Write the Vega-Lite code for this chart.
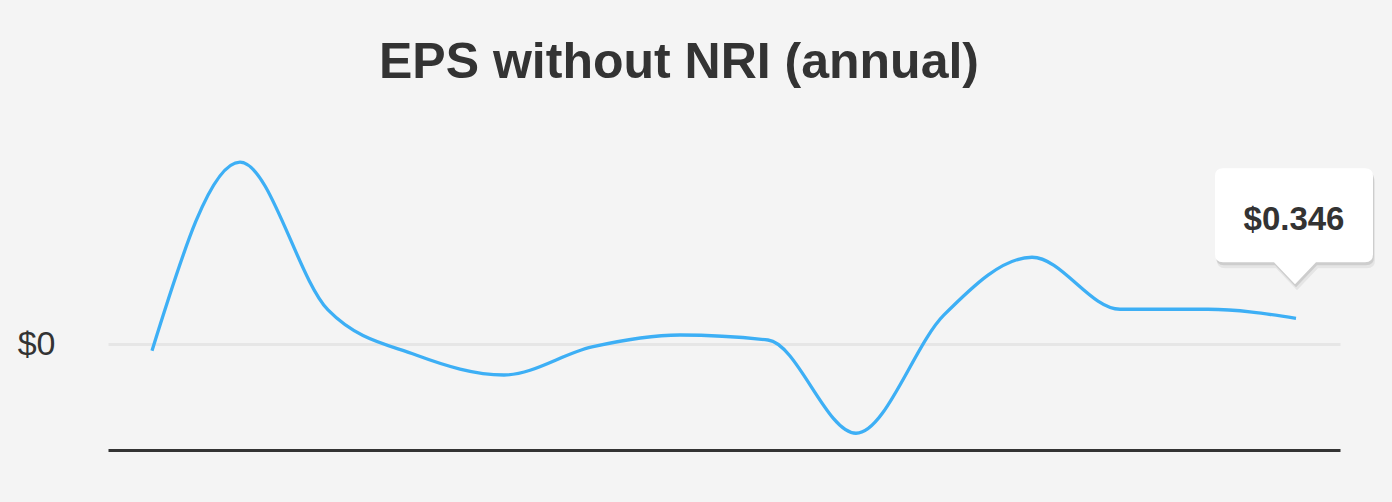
{
  "$schema": "https://vega.github.io/schema/vega-lite/v6.json",
  "width": 1232,
  "height": 300,
  "autosize": {"type": "none"},
  "padding": {"left": 108, "top": 150, "right": 52, "bottom": 52},
  "background": "#f4f4f4",
  "title": {
    "text": "EPS without NRI (annual)",
    "font": "Liberation Sans",
    "fontSize": 50,
    "fontWeight": "bold",
    "color": "#333333",
    "anchor": "middle",
    "frame": "group",
    "dx": -45,
    "baseline": "alphabetic",
    "offset": 22
  },
  "config": {
    "view": {"stroke": null},
    "font": "Liberation Sans"
  },
  "data": {
    "values": [
      {"idx": 1, "eps": -0.082},
      {"idx": 2, "eps": 2.41},
      {"idx": 3, "eps": 0.456},
      {"idx": 4, "eps": -0.139},
      {"idx": 5, "eps": -0.403},
      {"idx": 6, "eps": -0.033},
      {"idx": 7, "eps": 0.125},
      {"idx": 8, "eps": 0.059},
      {"idx": 9, "eps": -1.173},
      {"idx": 10, "eps": 0.39},
      {"idx": 11, "eps": 1.152},
      {"idx": 12, "eps": 0.465},
      {"idx": 13, "eps": 0.465},
      {"idx": 14, "eps": 0.346}
    ]
  },
  "encoding": {
    "x": {
      "field": "idx",
      "type": "quantitative",
      "scale": {"domain": [0.5, 14.5], "nice": false, "zero": false},
      "axis": {
        "title": null,
        "labels": false,
        "ticks": false,
        "grid": false,
        "domain": true,
        "domainColor": "#333333",
        "domainWidth": 3
      }
    },
    "y": {
      "field": "eps",
      "type": "quantitative",
      "scale": {"domain": [-1.394, 2.569], "nice": false, "zero": false},
      "axis": {
        "title": null,
        "values": [0],
        "format": "$.0f",
        "domain": false,
        "ticks": false,
        "tickSize": 0,
        "labelPadding": 53,
        "labelFontSize": 34,
        "labelColor": "#333333",
        "labelFont": "Liberation Sans",
        "grid": true,
        "gridColor": "#e6e6e6",
        "gridWidth": 3
      }
    }
  },
  "layer": [
    {
      "mark": {"type": "line", "interpolate": "monotone", "color": "#3daff5", "strokeWidth": 3.3}
    },
    {
      "transform": [{"filter": "datum.idx == 14"}],
      "mark": {
        "type": "point",
        "filled": true,
        "size": 4,
        "opacity": 1,
        "fill": "#000000",
        "fillOpacity": 0.06,
        "yOffset": 6,
        "xOffset": 2,
        "shape": "M -73 -150 L 69 -150 Q 77 -150 77 -142 L 77 -64 Q 77 -56 69 -56 L 20 -56 L -1 -34 L -22 -56 L -73 -56 Q -81 -56 -81 -64 L -81 -142 Q -81 -150 -73 -150 Z"
      }
    },
    {
      "transform": [{"filter": "datum.idx == 14"}],
      "mark": {
        "type": "point",
        "filled": true,
        "size": 4,
        "opacity": 1,
        "fill": "#000000",
        "fillOpacity": 0.1,
        "yOffset": 3,
        "xOffset": 1,
        "shape": "M -73 -150 L 69 -150 Q 77 -150 77 -142 L 77 -64 Q 77 -56 69 -56 L 20 -56 L -1 -34 L -22 -56 L -73 -56 Q -81 -56 -81 -64 L -81 -142 Q -81 -150 -73 -150 Z"
      }
    },
    {
      "transform": [{"filter": "datum.idx == 14"}],
      "mark": {
        "type": "point",
        "filled": true,
        "size": 4,
        "opacity": 1,
        "fill": "#ffffff",
        "shape": "M -73 -150 L 69 -150 Q 77 -150 77 -142 L 77 -64 Q 77 -56 69 -56 L 20 -56 L -1 -34 L -22 -56 L -73 -56 Q -81 -56 -81 -64 L -81 -142 Q -81 -150 -73 -150 Z"
      }
    },
    {
      "transform": [{"filter": "datum.idx == 14"}],
      "mark": {
        "type": "text",
        "font": "Liberation Sans",
        "fontSize": 33,
        "fontWeight": "bold",
        "color": "#333333",
        "align": "center",
        "baseline": "middle",
        "dx": -2,
        "dy": -98
      },
      "encoding": {
        "text": {"field": "eps", "type": "quantitative", "format": "$.3f"}
      }
    }
  ]
}
